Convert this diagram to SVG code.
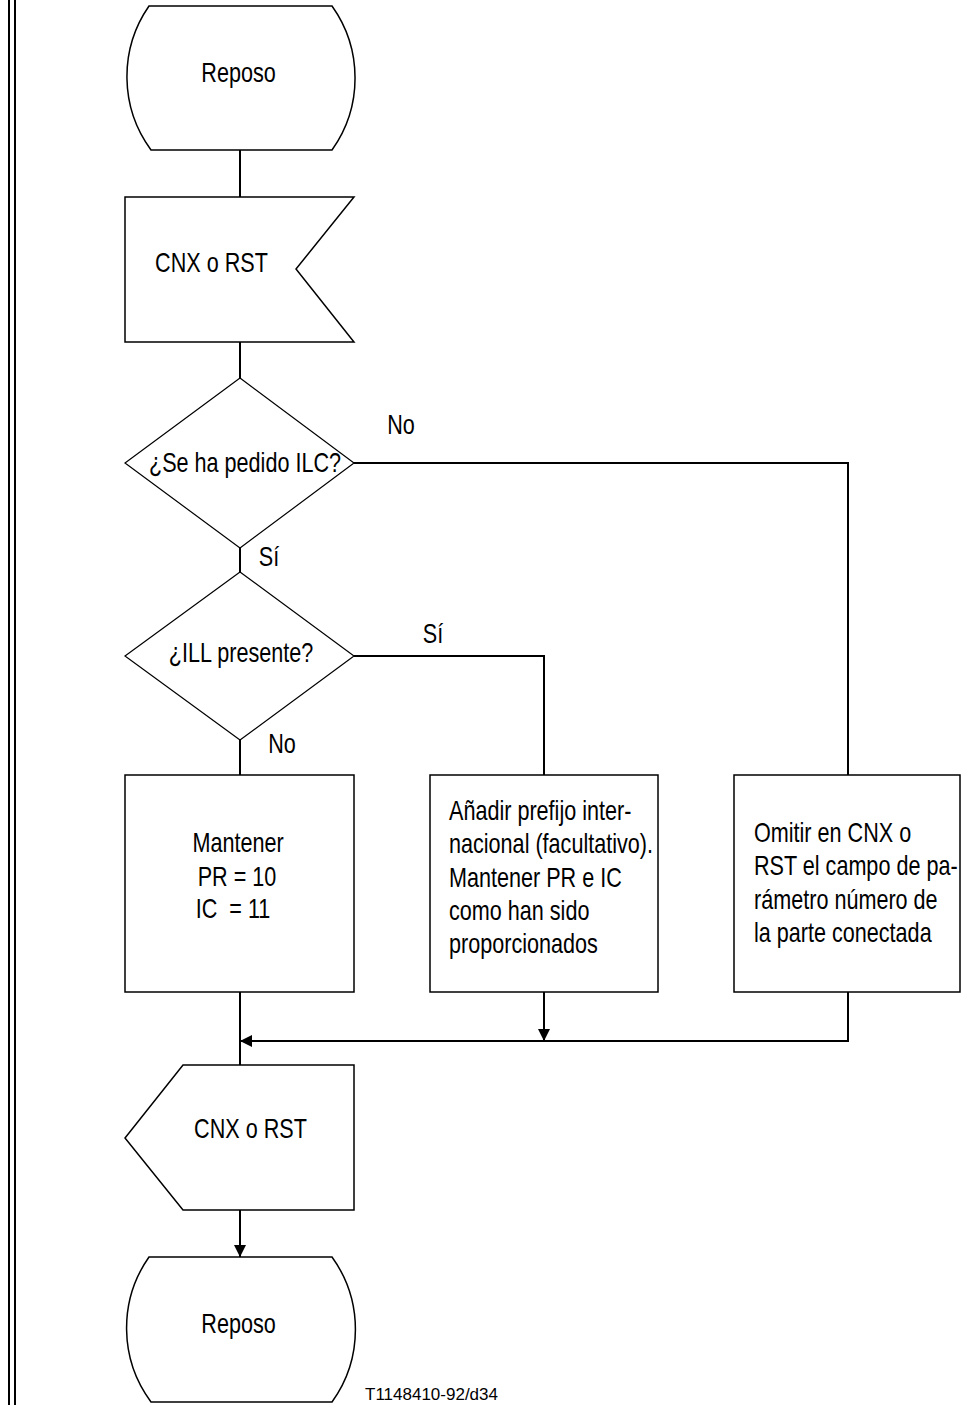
<svg xmlns="http://www.w3.org/2000/svg" width="967" height="1405" viewBox="0 0 967 1405">
<style>
.sh{fill:#fff;stroke:#000;stroke-width:1.5}
.dm{fill:#fff;stroke:#000;stroke-width:1.2}
.cn{fill:none;stroke:#000;stroke-width:2}
.t{font-family:"Liberation Sans",Arial,sans-serif;font-size:27px;fill:#000}
.c{text-anchor:middle}
.lbl{font-family:"Liberation Sans",Arial,sans-serif;font-size:17px;fill:#000}
</style>
<defs>
<marker id="ah" viewBox="0 0 10 10" refX="10" refY="5" markerWidth="16" markerHeight="12" markerUnits="userSpaceOnUse" orient="auto">
<path d="M0,0 L10,5 L0,10 Z" fill="#000"/>
</marker>
</defs>
<g id="border">
<line x1="9" y1="0" x2="9" y2="1405" stroke="#000" stroke-width="2"/>
<line x1="15" y1="0" x2="15" y2="1405" stroke="#000" stroke-width="2"/>
</g>
<g id="connectors">
<line class="cn" x1="240" y1="150" x2="240" y2="197"/>
<line class="cn" x1="240" y1="342" x2="240" y2="378"/>
<line class="cn" x1="240" y1="548" x2="240" y2="572"/>
<polyline class="cn" points="354,463 848,463 848,775"/>
<polyline class="cn" points="354,656 544,656 544,775"/>
<line class="cn" x1="240" y1="740" x2="240" y2="775"/>
<line class="cn" x1="240" y1="992" x2="240" y2="1065"/>
<line class="cn" x1="544" y1="992" x2="544" y2="1041" marker-end="url(#ah)"/>
<polyline class="cn" points="848,992 848,1041 240,1041" marker-end="url(#ah)"/>
<line class="cn" x1="240" y1="1210" x2="240" y2="1257" marker-end="url(#ah)"/>
</g>
<g id="reposo1">
<path class="sh" d="M149,6 L332,6 A124,124 0 0 1 332,150 L151,150 A124,124 0 0 1 149,6 Z"/>
<text class="t c" transform="translate(238.5,82) scale(0.8,1)">Reposo</text>
</g>
<g id="input-signal">
<path class="sh" d="M125,197 L354,197 L296,269 L354,342 L125,342 Z"/>
<text class="t c" transform="translate(211.5,272) scale(0.8,1)">CNX o RST</text>
</g>
<g id="decision-ilc">
<path class="dm" d="M240,378 L354,463 L240,548 L125,463 Z"/>
<text class="t c" transform="translate(245,472) scale(0.8,1)">¿Se ha pedido ILC?</text>
</g>
<g id="decision-ill">
<path class="dm" d="M240,572 L354,656 L240,740 L125,656 Z"/>
<text class="t c" transform="translate(241,662) scale(0.8,1)">¿ILL presente?</text>
</g>
<g id="labels">
<text class="t c" transform="translate(401,434) scale(0.8,1)">No</text>
<text class="t c" transform="translate(269,566) scale(0.8,1)">Sí</text>
<text class="t c" transform="translate(433,643) scale(0.8,1)">Sí</text>
<text class="t c" transform="translate(282,753) scale(0.8,1)">No</text>
</g>
<g id="box-mantener">
<rect class="sh" x="125" y="775" width="229" height="217"/>
<text class="t c" transform="translate(238,852) scale(0.8,1)">Mantener</text>
<text class="t c" transform="translate(237,886) scale(0.8,1)">PR = 10</text>
<text class="t c" transform="translate(233,918) scale(0.8,1)" xml:space="preserve">IC  = 11</text>
</g>
<g id="box-anadir">
<rect class="sh" x="430" y="775" width="228" height="217"/>
<g transform="translate(449,0) scale(0.8,1)">
<text class="t" x="0" y="820">Añadir prefijo inter-</text>
<text class="t" x="0" y="853.5">nacional (facultativo).</text>
<text class="t" x="0" y="887">Mantener PR e IC</text>
<text class="t" x="0" y="920">como han sido</text>
<text class="t" x="0" y="953">proporcionados</text>
</g>
</g>
<g id="box-omitir">
<rect class="sh" x="734" y="775" width="226" height="217"/>
<g transform="translate(754,0) scale(0.8,1)">
<text class="t" x="0" y="842">Omitir en CNX o</text>
<text class="t" x="0" y="875.5">RST el campo de pa-</text>
<text class="t" x="0" y="909">rámetro número de</text>
<text class="t" x="0" y="942">la parte conectada</text>
</g>
</g>
<g id="output-signal">
<path class="sh" d="M183,1065 L354,1065 L354,1210 L183,1210 L125,1138 Z"/>
<text class="t c" transform="translate(250.5,1138) scale(0.8,1)">CNX o RST</text>
</g>
<g id="reposo2">
<path class="sh" d="M149,1257 L332,1257 A124,124 0 0 1 332,1402 L151,1402 A124,124 0 0 1 149,1257 Z"/>
<text class="t c" transform="translate(238.5,1333) scale(0.8,1)">Reposo</text>
</g>
<text class="lbl" x="365" y="1400">T1148410-92/d34</text>
</svg>
